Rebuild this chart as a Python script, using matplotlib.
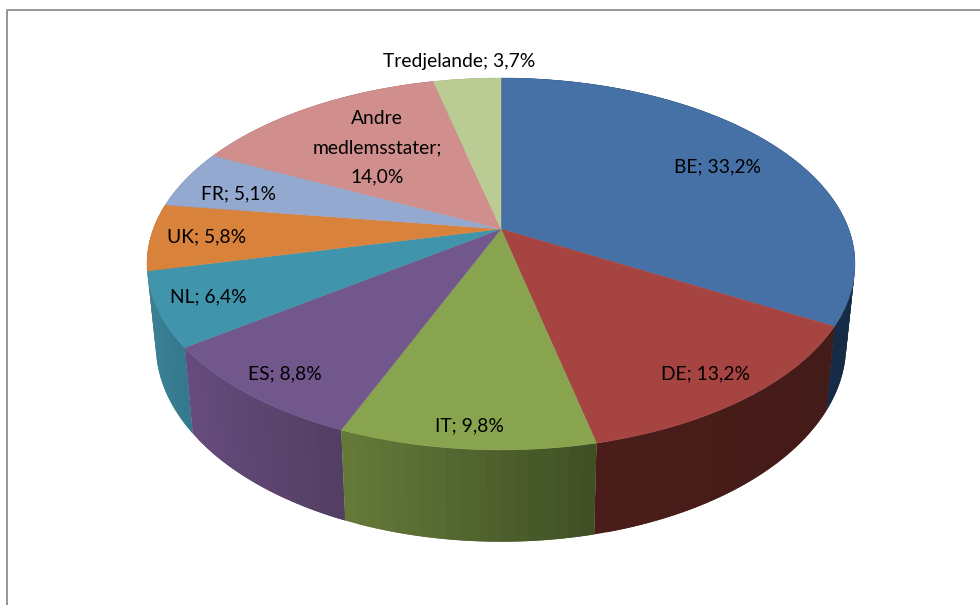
import numpy as np
import matplotlib
matplotlib.use("Agg")
import matplotlib.pyplot as plt
from matplotlib.colors import to_rgb

labels = ["BE; 33,2%", "DE; 13,2%", "IT; 9,8%", "ES; 8,8%", "NL; 6,4%", "UK; 5,8%",
          "FR; 5,1%", "Andre\nmedlemsstater;\n14,0%", "Tredjelande; 3,7%"]
shares = [33.2, 13.2, 9.8, 8.8, 6.4, 5.8, 5.1, 14.0, 3.7]

top_colors = ["#4671a6", "#a64442", "#88a44f", "#71578c", "#4095ad", "#d9823c",
              "#93a9cf", "#d08e8c", "#bacb94"]
side_left = ["#1a3352", "#4a1d1a", "#667a3a", "#664c7e", "#3b8196", "#a8642c",
             "#72839f", "#a06e6c", "#909e72"]
side_right = ["#162b45", "#431b18", "#3f4f24", "#523e62", "#35788d", "#a8642c",
              "#72839f", "#a06e6c", "#909e72"]

label_xy = [(717, 167), (705, 373.5), (469.5, 425.5), (284.5, 373.5), (208, 296.5), (207, 236.5),
            (238, 194), (377, 147.5), (459.5, 61.5)]

# perspective of the disc, fitted to the picture (pixels)
cx, cy = 501, 229
a, b, k = 347.7, 179.4, 0.188
shrink, depth = 0.975, 79


def top_point(theta):
    u, v = np.sin(theta), -np.cos(theta)
    w = 1 - k * v
    return cx + a * u / w, cy + b * v / w


def bottom_point(theta):
    u, v = np.sin(theta), -np.cos(theta)
    w = 1 - k * v
    return cx + shrink * a * u / w, cy + shrink * b * v / w + depth / w


fig = plt.figure(figsize=(9.8, 6.05), dpi=100)
ax = fig.add_axes([0, 0, 1, 1])
ax.set_xlim(0, 980)
ax.set_ylim(605, 0)
ax.axis("off")

# chart frame, cut off by the picture on the right and at the bottom
ax.plot([6.5, 6.5, 980], [605, 9.5, 9.5], color="#8e8e8e", lw=1.3, solid_capstyle="butt")

edges = np.cumsum([0] + shares) / 100 * 2 * np.pi
mids = (edges[:-1] + edges[1:]) / 2

# side wall, back slices first; each strip runs on under the next one so no seams show
for i in np.argsort(-np.cos(mids)):
    n = max(int(shares[i] * 2), 4)
    th = np.linspace(edges[i], edges[i + 1], n + 1)
    x_all = top_point(th)[0]
    order = range(n) if x_all[-1] > x_all[0] else range(n - 1, -1, -1)
    for j in order:
        t = (top_point((th[j] + th[j + 1]) / 2)[0] - x_all.min()) / max(x_all.max() - x_all.min(), 1)
        col = (1 - t) * np.array(to_rgb(side_left[i])) + t * np.array(to_rgb(side_right[i]))
        if x_all[-1] > x_all[0]:
            tt = np.linspace(th[j], th[min(j + 2, n)], 6)
        else:
            tt = np.linspace(th[max(j - 1, 0)], th[j + 1], 6)
        x1, y1 = top_point(tt)
        x2, y2 = bottom_point(tt)
        ax.fill(np.r_[x1, x2[::-1]], np.r_[y1, y2[::-1]], color=col, lw=0, zorder=2)

# top face
for i in range(len(shares)):
    th = np.linspace(edges[i], edges[i + 1], 120)
    x, y = top_point(th)
    ax.fill(np.r_[cx, x], np.r_[cy, y], facecolor=top_colors[i], edgecolor=top_colors[i],
            lw=0.3, zorder=3)

for lab, (x, y) in zip(labels, label_xy):
    ax.text(x, y, lab, ha="center", va="center", fontsize=13.9, family="Lato",
            color="#000000", linespacing=1.85, zorder=4)

fig.savefig("out.png", dpi=100, facecolor="white")
